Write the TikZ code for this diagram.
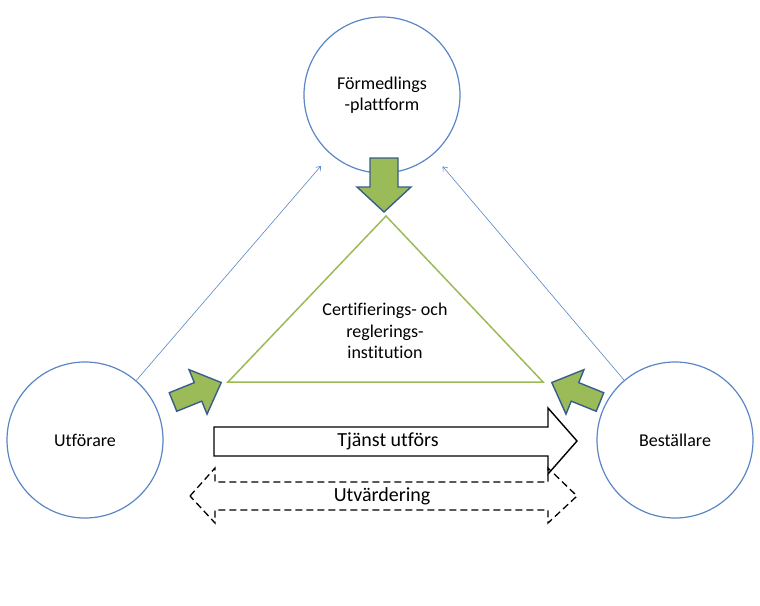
\documentclass[tikz,border=0pt]{standalone}
\usepackage{fontspec}
\setmainfont{Carlito}[Ligatures=NoCommon]
\usetikzlibrary{arrows.meta}
\definecolor{ringblue}{HTML}{5A86C5}
\definecolor{leafgreen}{HTML}{9BBB59}
\definecolor{edgeblue}{HTML}{385D8A}
\tikzset{
  party/.style={circle, draw=ringblue, line width=1.2pt, minimum size=156pt, inner sep=0pt, align=center},
  link/.style={draw=ringblue, line width=0.6pt, -{Straight Barb[length=4pt,width=6pt]}},
  greenarrow/.style={fill=leafgreen, draw=edgeblue, line width=1.4pt, line join=miter},
  label/.style={align=center, inner sep=0pt},
  biglabel/.style={label, font=\fontsize{20}{24}\selectfont}
}
\begin{document}
\begin{tikzpicture}[x=1pt, y=-1pt, font=\fontsize{18}{21.5}\selectfont]
			\useasboundingbox (0,0) rectangle (760,605);
			% the three parties
			\node [party] (plattform) at (382,95) {F\"ormedlings\\-plattform};
			\node [party] (utforare) at (85,440) {Utf\"orare};
			\node [party] (bestallare) at (675,440) {Best\"allare};
			\draw [link, shorten >=15pt] (utforare) -- (plattform);
			\draw [link, shorten >=15pt] (bestallare) -- (plattform);
			% institution
			\coordinate (top) at (386,216);
			\coordinate (left) at (228,382);
			\coordinate (right) at (543,382);
			\draw [leafgreen, line width=1.5pt] (top) -- (left) -- (right) -- cycle;
			\node [label] (institution) at (385,331) {Certifierings- och\\reglerings-\\institution};
			% green block arrows
			\draw [greenarrow] (370,158) -- (398,158) -- (398,187) -- (411,187) -- (384,212)
				-- (357,187) -- (370,187) -- cycle;
			\draw [greenarrow, shift={(173,402)}, rotate=22] (0,-10) -- (27,-10) -- (27,-24) -- (52,0)
				-- (27,24) -- (27,10) -- (0,10) -- cycle;
			\draw [greenarrow, shift={(600,402)}, rotate=158] (0,-10) -- (27,-10) -- (27,-24) -- (52,0)
				-- (27,24) -- (27,10) -- (0,10) -- cycle;
			% service and evaluation
			\draw [black, line width=1.4pt, fill=white] (214,427) -- (548,427) -- (548,408) -- (577,441)
				-- (548,474) -- (548,456) -- (214,456) -- cycle;
			\node [biglabel] (tjanst) at (388,441) {Tj\"anst utf\"ors};
			\draw [black, line width=1.3pt, dash pattern=on 7pt off 4pt] (190,496) -- (215,468) -- (215,482)
				-- (548,482) -- (548,468) -- (577,496) -- (548,523) -- (548,510) -- (215,510) -- (215,523) -- cycle;
			\node [biglabel] (utvardering) at (382,496) {Utv\"ardering};
		\end{tikzpicture}
\end{document}
